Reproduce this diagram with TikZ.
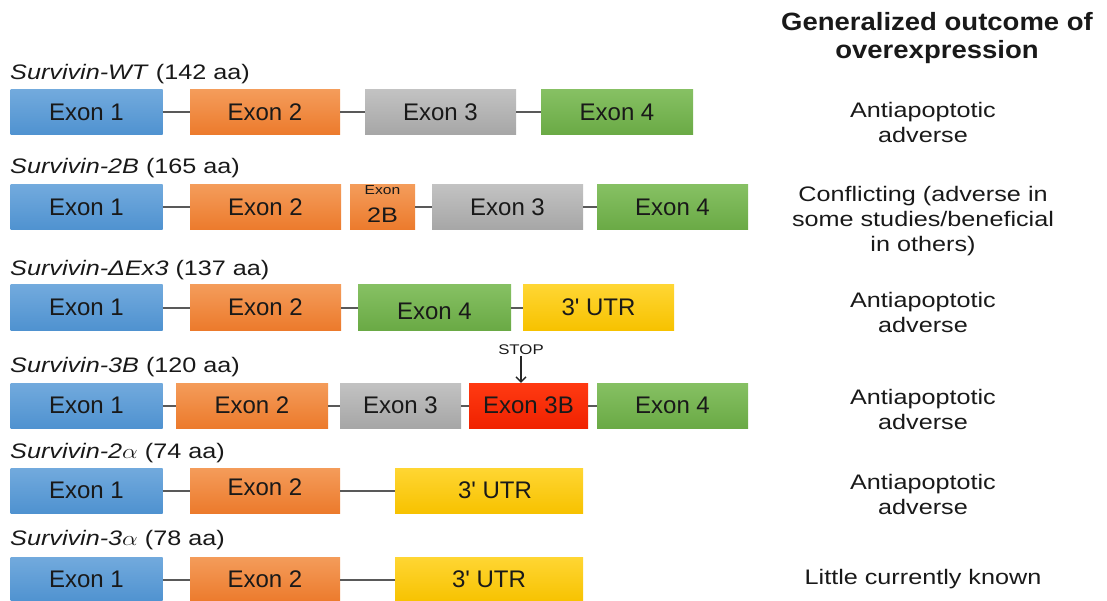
\documentclass[tikz,border=0pt]{standalone}
\usepackage{fontspec}
\setmainfont{Liberation Sans}
\usepackage{graphicx}
\usepackage{xcolor}
\usepackage{tikz}
\usetikzlibrary{positioning,arrows.meta}

\definecolor{exblueT}{HTML}{72AADD}
\definecolor{exblueB}{HTML}{4F92D0}
\definecolor{exorangeT}{HTML}{F49C5A}
\definecolor{exorangeB}{HTML}{EC7A2C}
\definecolor{exgrayT}{HTML}{C2C2C2}
\definecolor{exgrayB}{HTML}{A6A6A6}
\definecolor{exgreenT}{HTML}{86C063}
\definecolor{exgreenB}{HTML}{6AAA45}
\definecolor{exyellowT}{HTML}{FFD633}
\definecolor{exyellowB}{HTML}{F7C200}
\definecolor{exredT}{HTML}{FF3A12}
\definecolor{exredB}{HTML}{F02200}
\newcommand{\wtext}[1]{\scalebox{1.2}[1]{#1}}
\newcommand{\utrtext}{3\textquotesingle\ UTR}

\begin{document}
\begin{tikzpicture}[x=1pt,y=-1pt,
	exon/.style={rectangle,inner sep=0pt,minimum width=152pt,minimum height=45pt,font=\fontsize{24}{26}\selectfont,text=black!90},
	exI/.style={top color=exblueT,bottom color=exblueB},
	exII/.style={top color=exorangeT,bottom color=exorangeB},
	exIII/.style={top color=exgrayT,bottom color=exgrayB},
	exIV/.style={top color=exgreenT,bottom color=exgreenB},
	utr/.style={top color=exyellowT,bottom color=exyellowB},
	exIIIb/.style={top color=exredT,bottom color=exredB},
	intron/.style={draw=black!65,line width=2pt},
	isoform/.style={anchor=west,inner sep=0pt,font=\fontsize{21}{24}\selectfont,text=black!90},
	outcome/.style={align=center,inner sep=0pt,font=\fontsize{21}{25}\selectfont,text=black!90}]
				\useasboundingbox (0,0) rectangle (1107,601);
				% Heading of the outcome column
				\node[align=center,inner sep=0pt,font=\bfseries\fontsize{25}{28}\selectfont,text=black!90] (head) at (937,38) {\scalebox{1.1}[1]{Generalized outcome of}\\\scalebox{1.1}[1]{overexpression}};
				% Survivin-WT
				\node[isoform] (lwt) at (10,74) {\wtext{\textit{Survivin-WT} (142 aa)}};
				\node[exon,exI] (wt1) at (86.5,112.5) {Exon 1};
				\node[exon,exII,minimum width=150pt] (wt2) at (265,112.5) {Exon 2};
				\node[exon,exIII,minimum width=151pt] (wt3) at (440.5,112.5) {Exon 3};
				\node[exon,exIV] (wt4) at (617,112.5) {Exon 4};
				\draw[intron] (wt1) -- (wt2);
				\draw[intron] (wt2) -- (wt3);
				\draw[intron] (wt3) -- (wt4);
				\node[outcome] (owt) at (923,122) {\wtext{Antiapoptotic}\\\wtext{adverse}};
				% Survivin-2B
				\node[isoform] (l2b) at (10,168) {\wtext{\textit{Survivin-2B} (165 aa)}};
				\node[exon,exI] (b1) at (86.5,207.5) {Exon 1};
				\node[exon,exII,minimum width=151pt] (b2) at (265.5,207.5) {Exon 2};
				\node[exon,exII,minimum width=65pt,align=center] (b2b) at (382.5,207.5) {{\fontsize{13}{13}\selectfont\wtext{Exon}}\\[2pt]{\fontsize{21}{21}\selectfont\wtext{2B}}\rule[-7pt]{0pt}{7pt}};
				\node[exon,exIII,minimum width=151pt] (b3) at (507.5,207.5) {Exon 3};
				\node[exon,exIV,minimum width=151pt] (b4) at (672.5,207.5) {Exon 4};
				\draw[intron] (b1) -- (b2);
				\draw[intron] (b2b) -- (b3);
				\draw[intron] (b3) -- (b4);
				\node[outcome] (o2b) at (923,221.5) {\wtext{Conflicting (adverse in}\\\wtext{some studies/beneficial}\\\wtext{in others)}};
				% Survivin-dEx3
				\node[isoform] (ldx) at (10,270) {\wtext{\textit{Survivin-ΔEx3} (137 aa)}};
				\node[exon,exI] (d1) at (86.5,307.5) {Exon 1};
				\node[exon,exII,minimum width=151pt] (d2) at (265.5,307.5) {Exon 2};
				\node[exon,exIV,minimum width=153pt] (d4) at (434.5,307.5) {\rule{0pt}{25pt}Exon 4};
				\node[exon,utr,minimum width=151pt] (du) at (598.5,307.5) {\utrtext};
				\draw[intron] (d1) -- (d2);
				\draw[intron] (d2) -- (d4);
				\draw[intron] (d4) -- (du);
				\node[outcome] (odx) at (923,312) {\wtext{Antiapoptotic}\\\wtext{adverse}};
				% Survivin-3B
				\node[isoform] (l3b) at (10,367) {\wtext{\textit{Survivin-3B} (120 aa)}};
				\node[exon,exI] (t1) at (86.5,405.5) {Exon 1};
				\node[exon,exII] (t2) at (252,405.5) {Exon 2};
				\node[exon,exIII,minimum width=121pt] (t3) at (400.5,405.5) {Exon 3};
				\node[exon,exIIIb,minimum width=119pt] (t3b) at (528.5,405.5) {Exon 3B};
				\node[exon,exIV,minimum width=151pt] (t4) at (672.5,405.5) {Exon 4};
				\draw[intron] (t1) -- (t2);
				\draw[intron] (t2) -- (t3);
				\draw[intron] (t3) -- (t3b);
				\draw[intron] (t3b) -- (t4);
				\node[inner sep=1pt,font=\fontsize{14}{15}\selectfont,text=black!90] (stop) at (521,350) {\wtext{STOP}};
				\draw[-{Straight Barb[length=5pt,width=10pt]},line width=1.3pt,black!85] (stop) -- (stop |- t3b.north);
				\node[outcome] (o3b) at (923,409) {\wtext{Antiapoptotic}\\\wtext{adverse}};
				% Survivin-2alpha
				\node[isoform] (la2) at (10,453) {\wtext{\textit{Survivin-2}$\alpha$ (74 aa)}};
				\node[exon,exI] (a1) at (86.5,490.5) {Exon 1};
				\node[exon,exII,minimum width=150pt] (a2) at (265,490.5) {Exon 2\rule[-6pt]{0pt}{6pt}};
				\node[exon,utr,minimum width=188pt] (au) at (489,490.5) {\hspace*{12pt}\utrtext};
				\draw[intron] (a1) -- (a2);
				\draw[intron] (a2) -- (au);
				\node[outcome] (oa2) at (923,494) {\wtext{Antiapoptotic}\\\wtext{adverse}};
				% Survivin-3alpha
				\node[isoform] (la3) at (10,540) {\wtext{\textit{Survivin-3}$\alpha$ (78 aa)}};
				\node[exon,exI] (c1) at (86.5,579.5) {Exon 1};
				\node[exon,exII,minimum width=150pt] (c2) at (265,579.5) {Exon 2};
				\node[exon,utr,minimum width=188pt] (cu) at (489,579.5) {\utrtext};
				\draw[intron] (c1) -- (c2);
				\draw[intron] (c2) -- (cu);
				\node[outcome] (oa3) at (923,579) {\wtext{Little currently known}};
\end{tikzpicture}
\end{document}
